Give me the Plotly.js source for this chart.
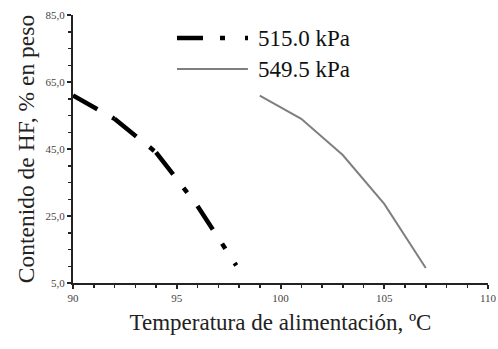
<!DOCTYPE html>
<html>
<head>
<meta charset="utf-8">
<script src="https://cdn.plot.ly/plotly-3.0.1.min.js"></script>
<style>html,body{margin:0;padding:0;background:#fff;}#chart{width:498px;height:349px;}</style>
</head>
<body>
<div id="chart"></div>
<script>
// Data
var seriesNames = ["515.0 kPa", "549.5 kPa"];
var temp515 = [90, 92, 94, 96, 98];
var hf515 = [61.0, 54.0, 44.0, 28.0, 9.0];
var temp549 = [99, 101, 103, 105, 107];
var hf549 = [60.9, 54.0, 43.2, 28.6, 9.5];
var xTickVals = [90, 95, 100, 105, 110];
var yTickVals = [5, 25, 45, 65, 85];

var serif = "Liberation Serif";
var style515 = {color: "#000000", width: 4.5, dash: "28px,17px,6px,17px,3px,17px"};
var style549 = {color: "#7f7f7f", width: 2};

var traces = [];
// 515.0 kPa: dash pattern restarts on every segment, as in the original
for (var i = 0; i < temp515.length - 1; i++) {
  traces.push({
    x: [temp515[i], temp515[i + 1]],
    y: [hf515[i], hf515[i + 1]],
    type: "scatter", mode: "lines",
    name: seriesNames[0],
    line: style515,
    hoverinfo: "skip"
  });
}
traces.push({
  x: temp549, y: hf549,
  type: "scatter", mode: "lines",
  name: seriesNames[1],
  line: style549
});

// Legend drawn as paper-space shapes + serif text
var legendRowsY = [0.914, 0.7985];
var legendLineX = [0.2506, 0.4265];
var legendTextX = 0.441;
var legendShapes = [
  {type: "line", xref: "paper", yref: "paper", x0: legendLineX[0], x1: legendLineX[1], y0: legendRowsY[0], y1: legendRowsY[0],
   line: {color: style515.color, width: style515.width, dash: "26px,17px,5px,20px,3px,20px"}},
  {type: "line", xref: "paper", yref: "paper", x0: legendLineX[0], x1: legendLineX[1] - 0.005, y0: legendRowsY[1], y1: legendRowsY[1],
   line: {color: style549.color, width: style549.width}}
];
var legendTexts = seriesNames.map(function (n, k) {
  return {text: n, xref: "paper", yref: "paper", x: legendTextX, y: legendRowsY[k],
          xanchor: "left", yanchor: "middle", showarrow: false,
          font: {family: serif, size: 23, color: "#111"}};
});

var layout = {
  width: 498, height: 349,
  margin: {l: 73, r: 10, t: 15, b: 66},
  paper_bgcolor: "#ffffff", plot_bgcolor: "#ffffff",
  separators: ",.",
  font: {family: serif},
  showlegend: false,
  shapes: legendShapes,
  annotations: legendTexts,
  xaxis: {
    range: [90, 110], tickvals: xTickVals, ticktext: xTickVals.map(String),
    showgrid: false, zeroline: false,
    showline: true, linecolor: "#222", linewidth: 2,
    ticks: "outside", ticklen: 4, tickwidth: 2, tickcolor: "#222",
    minor: {dtick: 1, ticks: "outside", ticklen: 3, tickwidth: 1.5, tickcolor: "#222", showgrid: false},
    tickfont: {family: serif, size: 11, color: "#444"},
    title: {text: "Temperatura de alimentación, ºC", standoff: 11, font: {family: serif, size: 23, color: "#222"}},
    automargin: false
  },
  yaxis: {
    range: [5, 85], tickvals: yTickVals, ticktext: yTickVals.map(function (v) { return v.toFixed(1).replace(".", ","); }),
    showgrid: false, zeroline: false,
    showline: true, linecolor: "#222", linewidth: 2,
    ticks: "outside", ticklen: 4, tickwidth: 2, tickcolor: "#222",
    minor: {dtick: 5, ticks: "outside", ticklen: 3, tickwidth: 1.5, tickcolor: "#222", showgrid: false},
    tickfont: {family: serif, size: 11, color: "#444"},
    title: {text: "Contenido de HF, % en peso", standoff: 4, font: {family: serif, size: 23.5, color: "#222"}},
    automargin: false
  }
};
Plotly.newPlot("chart", traces, layout, {displayModeBar: false, staticPlot: true});
</script>
</body>
</html>
